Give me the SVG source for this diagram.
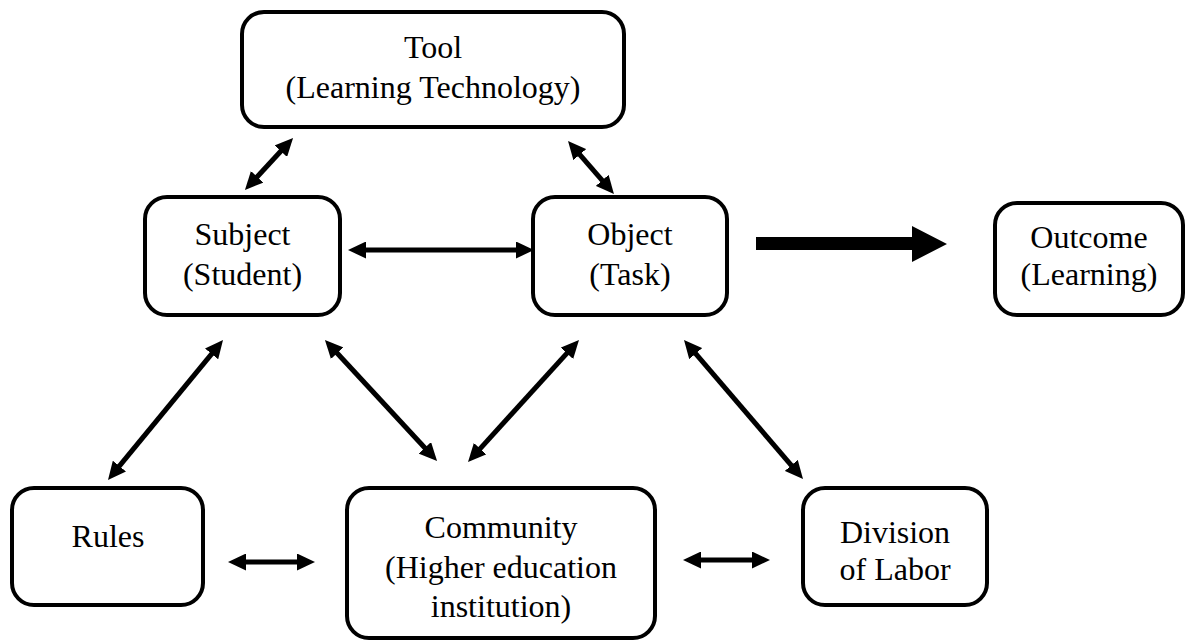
<svg xmlns="http://www.w3.org/2000/svg" width="1186" height="641" viewBox="0 0 1186 641">
<style>
.box{fill:#fff;stroke:#000;stroke-width:4}
.lbl{font-family:'Liberation Serif','Times New Roman',serif;font-size:32px;fill:#000;text-anchor:middle}
.con{stroke:#000;stroke-width:5;fill:none;marker-start:url(#ah);marker-end:url(#ah)}
</style>
<defs>
<marker id="ah" markerUnits="userSpaceOnUse" viewBox="0 0 18 17" markerWidth="18" markerHeight="17" refX="6" refY="8.5" orient="auto-start-reverse">
<path d="M0,0 L18,8.5 L0,17 z" fill="#000"/>
</marker>
</defs>
<rect width="1186" height="641" fill="#fff"/>
<g id="connectors">
<line class="con" x1="253.1" y1="181.2" x2="284.9" y2="146.8"/>
<line class="con" x1="575.9" y1="150.1" x2="606.1" y2="184.9"/>
<line class="con" x1="360" y1="250" x2="522" y2="250"/>
<line class="con" x1="215.4" y1="349.3" x2="115.6" y2="470.7"/>
<line class="con" x1="333.1" y1="348.8" x2="428.9" y2="452.2"/>
<line class="con" x1="476.1" y1="453.1" x2="570.9" y2="348.9"/>
<line class="con" x1="691.8" y1="349.1" x2="795.2" y2="469.9"/>
<line class="con" x1="240" y1="562" x2="303" y2="562"/>
<line class="con" x1="695" y1="560" x2="758" y2="560"/>
<polygon points="756,237 912,237 912,226 947,244 912,262 912,250 756,250" fill="#000"/>
</g>
<g id="tool">
<rect class="box" x="242" y="12" width="382" height="115" rx="22"/>
<text class="lbl" x="433" y="58">Tool</text>
<text class="lbl" x="433" y="98">(Learning Technology)</text>
</g>
<g id="subject">
<rect class="box" x="145" y="197" width="195" height="118" rx="22"/>
<text class="lbl" x="242.5" y="245">Subject</text>
<text class="lbl" x="242.5" y="285">(Student)</text>
</g>
<g id="object">
<rect class="box" x="533" y="197" width="194" height="118" rx="22"/>
<text class="lbl" x="630" y="245">Object</text>
<text class="lbl" x="630" y="285">(Task)</text>
</g>
<g id="outcome">
<rect class="box" x="995" y="203" width="188" height="112" rx="22"/>
<text class="lbl" x="1089" y="248">Outcome</text>
<text class="lbl" x="1089" y="285">(Learning)</text>
</g>
<g id="rules">
<rect class="box" x="12" y="488" width="191" height="117" rx="22"/>
<text class="lbl" x="108" y="547">Rules</text>
</g>
<g id="community">
<rect class="box" x="347" y="488" width="308" height="150" rx="22"/>
<text class="lbl" x="501" y="538">Community</text>
<text class="lbl" x="501" y="578">(Higher education</text>
<text class="lbl" x="501" y="617">institution)</text>
</g>
<g id="division">
<rect class="box" x="803" y="488" width="184" height="117" rx="22"/>
<text class="lbl" x="895" y="543">Division</text>
<text class="lbl" x="895" y="580">of Labor</text>
</g>
</svg>
